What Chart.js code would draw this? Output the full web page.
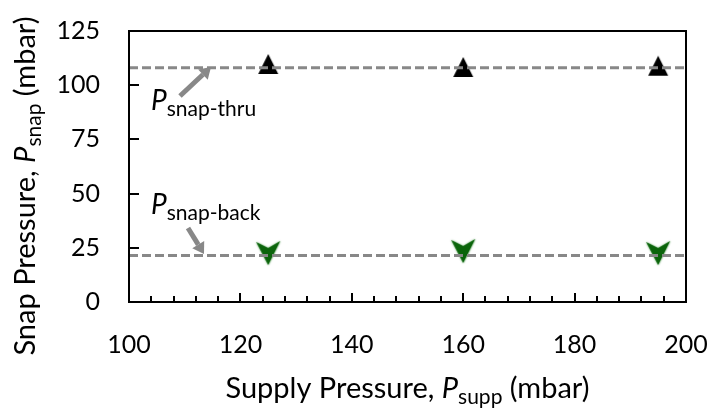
<!DOCTYPE html>
<html>
<head>
<meta charset="utf-8">
<script src="https://cdn.jsdelivr.net/npm/chart.js@4/dist/chart.umd.min.js"></script>
<style>
  body { margin: 0; background: #fff; }
  #wrap { width: 717px; height: 411px; position: relative; }
</style>
</head>
<body>
<div id="wrap"><canvas id="chart"></canvas></div>
<script>
// data
const supplyPressure = [125, 160, 195];
const snapThru = [109.8, 108.4, 109];
const snapBack = [22.6, 23.5, 22.6];
const lineX = [100, 200];
const thruLevel = [108, 108];
const backLevel = [21.5, 21.5];
const yTicks = [0, 25, 50, 75, 100, 125];
const xTicks = [100, 120, 140, 160, 180, 200];

const FONT = 'Lato';

// markers
function makeUpTriangle() {
    const c = document.createElement('canvas');
    c.width = 22; c.height = 22;
    const g = c.getContext('2d');
    g.fillStyle = '#000';
    g.beginPath();
    g.moveTo(11, 1); g.lineTo(21, 21); g.lineTo(1, 21);
    g.closePath();
    g.fill();
    return c;
}
function makeArrowHead() {
    const c = document.createElement('canvas');
    c.width = 30; c.height = 30;
    const g = c.getContext('2d');
    g.fillStyle = '#0b640b';
    g.shadowColor = 'rgba(20,120,20,0.8)';
    g.shadowBlur = 2;
    g.beginPath();
    g.moveTo(3, 4); g.lineTo(15, 10); g.lineTo(27, 3); g.lineTo(15, 27);
    g.closePath();
    g.fill();
    return c;
}

function toPts(xs, ys) {
    return xs.map((x, i) => ({ x: x, y: ys[i] }));
}

function drawRuns(ctx, runs, x, y, align) {
    let w = 0;
    runs.forEach(r => { ctx.font = r.f; w += ctx.measureText(r.t).width; });
    let cx = align === 'center' ? x - w / 2 : x;
    runs.forEach(r => {
        ctx.font = r.f;
        ctx.fillText(r.t, cx, y + (r.dy || 0));
        cx += ctx.measureText(r.t).width;
    });
}

function drawArrow(ctx, x1, y1, x2, y2) {
    const ang = Math.atan2(y2 - y1, x2 - x1);
    const hl = 11, hw = 7;
    const bx = x2 - hl * Math.cos(ang), by = y2 - hl * Math.sin(ang);
    ctx.strokeStyle = '#888';
    ctx.fillStyle = '#888';
    ctx.lineWidth = 5;
    ctx.beginPath();
    ctx.moveTo(x1, y1); ctx.lineTo(bx, by);
    ctx.stroke();
    ctx.beginPath();
    ctx.moveTo(x2, y2);
    ctx.lineTo(bx + hw * Math.sin(ang), by - hw * Math.cos(ang));
    ctx.lineTo(bx - hw * Math.sin(ang), by + hw * Math.cos(ang));
    ctx.closePath();
    ctx.fill();
}

const decor = {
    id: 'decor',
    afterDatasetsDraw(chart) {
        const ctx = chart.ctx;
        const a = chart.chartArea;
        const xs = chart.scales.x, ys = chart.scales.y;
        ctx.save();
        // frame
        ctx.strokeStyle = '#000';
        ctx.lineWidth = 2;
        ctx.strokeRect(a.left, a.top, a.right - a.left, a.bottom - a.top);
        // inward ticks
        ctx.lineWidth = 2;
        ctx.beginPath();
        for (let v = 104; v < 200; v += 4) {
            const px = Math.round(xs.getPixelForValue(v));
            const len = (v % 20 === 0) ? 9 : 6;
            ctx.moveTo(px, a.bottom); ctx.lineTo(px, a.bottom - len);
        }
        yTicks.slice(1, -1).forEach(v => {
            const py = Math.round(ys.getPixelForValue(v));
            ctx.moveTo(a.left, py); ctx.lineTo(a.left + 10, py);
        });
        ctx.stroke();

        // annotations
        drawArrow(ctx, 180, 96, 211, 67);
        drawArrow(ctx, 188, 228, 204, 254);
        ctx.fillStyle = '#000';
        ctx.textBaseline = 'alphabetic';
        drawRuns(ctx, [
            { t: 'P', f: 'italic 28px ' + FONT },
            { t: 'snap-thru', f: '21px ' + FONT, dy: 6 }
        ], 151, 110, 'left');
        drawRuns(ctx, [
            { t: 'P', f: 'italic 28px ' + FONT },
            { t: 'snap-back', f: '21px ' + FONT, dy: 6 }
        ], 151, 214, 'left');

        // axis titles
        drawRuns(ctx, [
            { t: 'Supply Pressure, ', f: '29px ' + FONT },
            { t: 'P', f: 'italic 29px ' + FONT },
            { t: 'supp', f: '21px ' + FONT, dy: 6 },
            { t: ' (mbar)', f: '29px ' + FONT }
        ], (a.left + a.right) / 2, 398, 'center');
        ctx.translate(35, 186);
        ctx.rotate(-Math.PI / 2);
        drawRuns(ctx, [
            { t: 'Snap Pressure, ', f: '29px ' + FONT },
            { t: 'P', f: 'italic 29px ' + FONT },
            { t: 'snap', f: '21px ' + FONT, dy: 6 },
            { t: ' (mbar)', f: '29px ' + FONT }
        ], 0, 0, 'center');
        ctx.restore();
    }
};

const data = {
    datasets: [
        {
            label: 'snap-thru level',
            type: 'line',
            data: toPts(lineX, thruLevel),
            borderColor: '#888',
            borderWidth: 3,
            borderDash: [9, 4],
            pointRadius: 0
        },
        {
            label: 'snap-back level',
            type: 'line',
            data: toPts(lineX, backLevel),
            borderColor: '#888',
            borderWidth: 3,
            borderDash: [9, 4],
            pointRadius: 0
        },
        {
            label: 'P snap-thru',
            data: toPts(supplyPressure, snapThru),
            pointStyle: makeUpTriangle(),
            pointRadius: 11
        },
        {
            label: 'P snap-back',
            data: toPts(supplyPressure, snapBack),
            pointStyle: makeArrowHead(),
            pointRadius: 14
        }
    ]
};

// invisible tick marks push the labels away from the axes
const hiddenGrid = (len) => ({
    display: true,
    color: 'rgba(0,0,0,0)',
    drawOnChartArea: false,
    drawTicks: true,
    tickLength: len
});

const config = {
    type: 'scatter',
    data: data,
    options: {
        responsive: true,
        maintainAspectRatio: false,
        animation: false,
        layout: { padding: { top: 31, right: 31, left: 0, bottom: 0 } },
        plugins: {
            legend: { display: false },
            tooltip: { enabled: false }
        },
        scales: {
            x: {
                type: 'linear',
                min: 100,
                max: 200,
                afterFit: (s) => { s.height = 109; },
                afterBuildTicks: (s) => { s.ticks = xTicks.map(v => ({ value: v })); },
                grid: hiddenGrid(28),
                border: { display: false },
                ticks: {
                    color: '#000',
                    padding: 0,
                    maxRotation: 0,
                    font: { family: FONT, size: 25 }
                }
            },
            y: {
                type: 'linear',
                min: 0,
                max: 125,
                afterFit: (s) => { s.width = 129; },
                afterBuildTicks: (s) => { s.ticks = yTicks.map(v => ({ value: v })); },
                grid: hiddenGrid(29),
                border: { display: false },
                ticks: {
                    color: '#000',
                    padding: 0,
                    font: { family: FONT, size: 25 }
                }
            }
        }
    },
    plugins: [decor]
};

// eslint-disable-next-line
const chart = new Chart(document.getElementById('chart'), config);
</script>
</body>
</html>
